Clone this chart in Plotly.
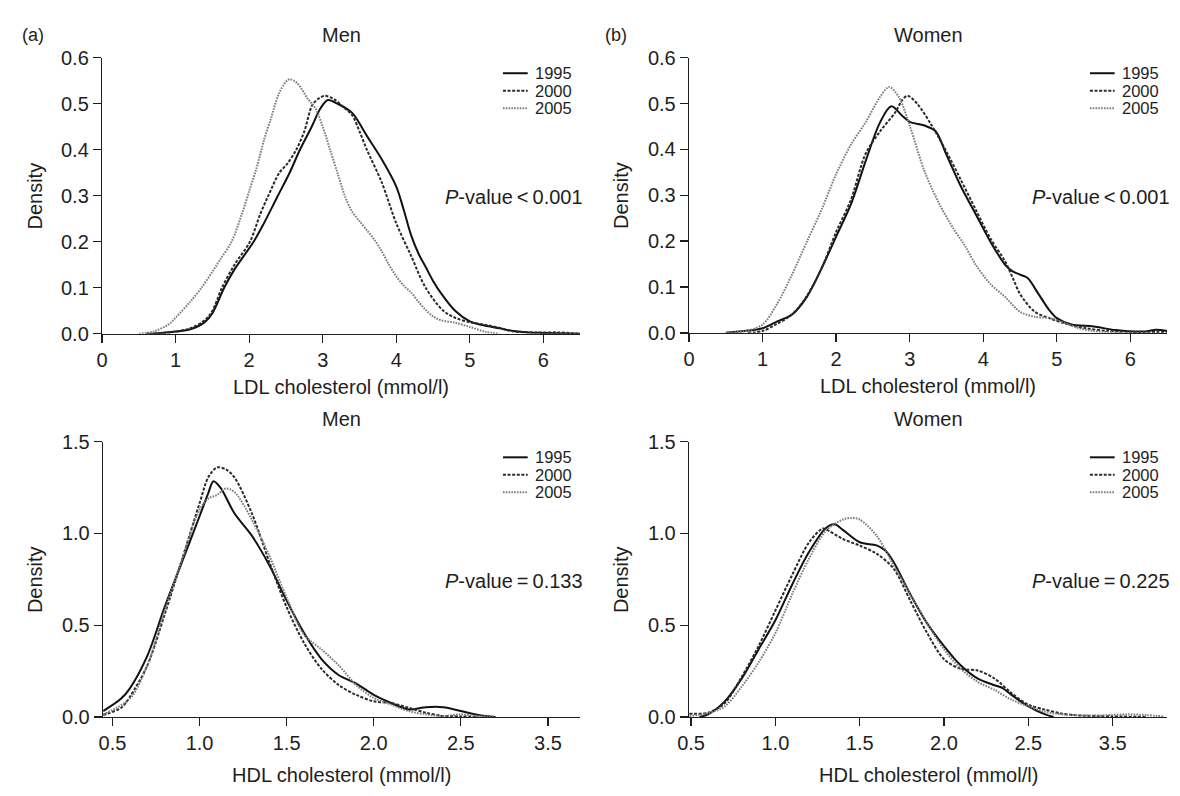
import plotly.graph_objects as go

W, H = 1180, 796
FONT = "Liberation Sans, Arial, Helvetica, sans-serif"
INK = "#1e1e1e"

years = ["1995", "2000", "2005"]

# ---- Panel (a): Men, LDL cholesterol ----
a_1995_x = [0.6, 0.8, 1.0, 1.2, 1.4, 1.5, 1.66, 1.8, 2.06, 2.2, 2.39, 2.55, 2.69, 2.85, 2.97, 3.07, 3.2, 3.4, 3.6, 3.8, 4.0, 4.1, 4.2, 4.3, 4.4, 4.5, 4.6, 4.8, 5.0, 5.2, 5.4, 5.6, 5.8, 6.0, 6.5]
a_1995_y = [0.0, 0.002, 0.005, 0.01, 0.026, 0.045, 0.1, 0.14, 0.2, 0.24, 0.3, 0.35, 0.4, 0.45, 0.49, 0.508, 0.5, 0.48, 0.43, 0.38, 0.32, 0.27, 0.215, 0.175, 0.145, 0.115, 0.09, 0.05, 0.027, 0.018, 0.012, 0.006, 0.003, 0.002, 0.0]
a_2000_x = [0.7, 1.0, 1.2, 1.4, 1.5, 1.63, 1.8, 2.01, 2.15, 2.26, 2.41, 2.52, 2.64, 2.75, 2.87, 3.02, 3.15, 3.3, 3.4, 3.5, 3.6, 3.8, 4.0, 4.2, 4.4, 4.64, 4.8, 5.0, 5.2, 5.4, 5.6, 5.9, 6.2, 6.5]
a_2000_y = [0.0, 0.005, 0.012, 0.03, 0.05, 0.1, 0.15, 0.2, 0.26, 0.3, 0.35, 0.37, 0.4, 0.44, 0.5, 0.517, 0.51, 0.49, 0.475, 0.44, 0.4, 0.33, 0.24, 0.17, 0.1, 0.05, 0.035, 0.025, 0.02, 0.013, 0.005, 0.003, 0.003, 0.0]
a_2005_x = [0.5, 0.7, 0.9, 1.0, 1.2, 1.35, 1.5, 1.6, 1.76, 1.9, 2.0, 2.1, 2.2, 2.3, 2.4, 2.5, 2.55, 2.65, 2.8, 2.9, 3.0, 3.1, 3.2, 3.3, 3.4, 3.5, 3.6, 3.7, 3.8, 3.9, 4.0, 4.1, 4.2, 4.3, 4.4, 4.5, 4.6, 4.8, 5.0, 5.2, 5.4]
a_2005_y = [0.0, 0.005, 0.02, 0.035, 0.07, 0.1, 0.135, 0.16, 0.2, 0.26, 0.31, 0.36, 0.42, 0.47, 0.52, 0.548, 0.553, 0.545, 0.51, 0.49, 0.45, 0.4, 0.35, 0.3, 0.265, 0.245, 0.225, 0.205, 0.18, 0.15, 0.125, 0.105, 0.09, 0.07, 0.052, 0.038, 0.03, 0.024, 0.015, 0.005, 0.0]

# ---- Panel (b): Women, LDL cholesterol ----
b_1995_x = [0.5, 0.8, 1.0, 1.2, 1.4, 1.6, 1.8, 2.0, 2.2, 2.4, 2.6, 2.75, 2.9, 3.0, 3.2, 3.35, 3.5, 3.7, 3.9, 4.1, 4.3, 4.4, 4.5, 4.6, 4.75, 4.9, 5.0, 5.2, 5.5, 5.8, 6.2, 6.35, 6.5]
b_1995_y = [0.0, 0.005, 0.01, 0.025, 0.04, 0.078, 0.14, 0.21, 0.28, 0.374, 0.46, 0.494, 0.473, 0.46, 0.452, 0.44, 0.388, 0.318, 0.258, 0.198, 0.148, 0.134, 0.127, 0.12, 0.085, 0.049, 0.032, 0.018, 0.014, 0.006, 0.003, 0.007, 0.004]
b_2000_x = [0.8, 1.0, 1.2, 1.4, 1.6, 1.8, 2.0, 2.2, 2.4, 2.6, 2.8, 2.9, 2.97, 3.1, 3.3, 3.5, 3.7, 3.9, 4.1, 4.3, 4.4, 4.5, 4.7, 4.9, 5.1, 5.4, 5.7, 6.0, 6.5]
b_2000_y = [0.0, 0.004, 0.02, 0.04, 0.08, 0.14, 0.22, 0.29, 0.39, 0.44, 0.48, 0.508, 0.517, 0.5, 0.452, 0.395, 0.332, 0.268, 0.205, 0.155, 0.12, 0.085, 0.046, 0.032, 0.021, 0.01, 0.004, 0.002, 0.002]
b_2005_x = [0.5, 0.8, 1.0, 1.2, 1.4, 1.6, 1.8, 2.0, 2.2, 2.4, 2.6, 2.72, 2.85, 3.0, 3.2, 3.4, 3.6, 3.75, 3.9, 4.1, 4.3, 4.5, 4.7, 4.9, 5.1, 5.3, 5.5, 5.8, 6.0]
b_2005_y = [0.0, 0.005, 0.018, 0.064, 0.127, 0.198, 0.268, 0.346, 0.41, 0.459, 0.515, 0.536, 0.515, 0.452, 0.353, 0.282, 0.226, 0.19, 0.148, 0.106, 0.078, 0.046, 0.035, 0.032, 0.022, 0.01, 0.004, 0.001, 0.0]

# ---- Panel (c): Men, HDL cholesterol ----
c_1995_x = [0.447, 0.55, 0.6, 0.7, 0.8, 0.9, 1.0, 1.05, 1.08, 1.12, 1.2, 1.3, 1.4, 1.5, 1.6, 1.7, 1.8, 1.9, 2.0, 2.1, 2.2, 2.3, 2.4, 2.5, 2.6, 2.7]
c_1995_y = [0.032, 0.1, 0.156, 0.333, 0.6, 0.846, 1.094, 1.22, 1.285, 1.25, 1.11, 0.988, 0.828, 0.634, 0.457, 0.315, 0.227, 0.182, 0.12, 0.076, 0.041, 0.053, 0.053, 0.032, 0.011, 0.0]
c_2000_x = [0.447, 0.55, 0.6, 0.7, 0.8, 0.9, 1.0, 1.05, 1.1, 1.15, 1.2, 1.3, 1.4, 1.5, 1.6, 1.7, 1.8, 1.9, 2.0, 2.1, 2.2, 2.3, 2.4, 2.5, 2.6]
c_2000_y = [0.011, 0.05, 0.11, 0.28, 0.56, 0.86, 1.165, 1.306, 1.36, 1.35, 1.306, 1.11, 0.846, 0.598, 0.403, 0.262, 0.173, 0.12, 0.085, 0.076, 0.05, 0.023, 0.005, 0.003, 0.0]
c_2005_x = [0.447, 0.6, 0.7, 0.8, 0.9, 1.0, 1.05, 1.1, 1.15, 1.2, 1.3, 1.4, 1.5, 1.6, 1.7, 1.8, 1.9, 2.0, 2.1, 2.2, 2.3, 2.4, 2.5, 2.6, 2.7]
c_2005_y = [0.014, 0.1, 0.28, 0.58, 0.86, 1.13, 1.19, 1.21, 1.245, 1.226, 1.076, 0.88, 0.65, 0.448, 0.368, 0.28, 0.173, 0.103, 0.067, 0.032, 0.014, 0.005, 0.014, 0.005, 0.0]

# ---- Panel (d): Women, HDL cholesterol ----
d_1995_x = [0.55, 0.6, 0.7, 0.8, 0.9, 1.0, 1.1, 1.2, 1.3, 1.35, 1.4, 1.5, 1.6, 1.65, 1.7, 1.8, 1.9, 2.0, 2.1, 2.2, 2.3, 2.35, 2.4, 2.5, 2.6, 2.65]
d_1995_y = [0.0, 0.014, 0.085, 0.209, 0.368, 0.527, 0.722, 0.9, 1.03, 1.05, 1.02, 0.952, 0.935, 0.908, 0.846, 0.669, 0.51, 0.386, 0.28, 0.209, 0.173, 0.156, 0.12, 0.058, 0.014, 0.0]
d_2000_x = [0.49, 0.6, 0.7, 0.8, 0.9, 1.0, 1.1, 1.2, 1.28, 1.3, 1.4, 1.5, 1.6, 1.7, 1.8, 1.9, 2.0, 2.1, 2.2, 2.3, 2.4, 2.5, 2.6, 2.7, 2.8, 3.0, 3.2]
d_2000_y = [0.018, 0.023, 0.076, 0.218, 0.386, 0.58, 0.775, 0.952, 1.027, 1.023, 0.97, 0.934, 0.89, 0.81, 0.634, 0.457, 0.315, 0.262, 0.253, 0.209, 0.13, 0.067, 0.04, 0.018, 0.008, 0.003, 0.0]
d_2005_x = [0.49, 0.6, 0.7, 0.8, 0.9, 1.0, 1.1, 1.2, 1.3, 1.4, 1.45, 1.5, 1.6, 1.7, 1.8, 1.9, 2.0, 2.1, 2.2, 2.3, 2.4, 2.5, 2.6, 2.7, 2.9, 3.1, 3.2, 3.3]
d_2005_y = [0.005, 0.02, 0.058, 0.165, 0.297, 0.457, 0.67, 0.864, 1.015, 1.076, 1.085, 1.076, 0.988, 0.828, 0.669, 0.51, 0.368, 0.262, 0.191, 0.147, 0.094, 0.058, 0.028, 0.014, 0.008, 0.014, 0.01, 0.003]

p_values = ["P-value<0.001", "P-value<0.001", "P-value=0.133", "P-value=0.225"]
panel_titles = ["Men", "Women", "Men", "Women"]
x_titles = ["LDL cholesterol (mmol/l)", "LDL cholesterol (mmol/l)", "HDL cholesterol (mmol/l)", "HDL cholesterol (mmol/l)"]
ldl_ticks = [0, 1, 2, 3, 4, 5, 6]
hdl_tickvals = [0.5, 1.0, 1.5, 2.0, 2.5, 3.0]
hdl_ticktext = ["0.5", "1.0", "1.5", "2.0", "2.5", "3.5"]

panels = [
    [(a_1995_x, a_1995_y), (a_2000_x, a_2000_y), (a_2005_x, a_2005_y)],
    [(b_1995_x, b_1995_y), (b_2000_x, b_2000_y), (b_2005_x, b_2005_y)],
    [(c_1995_x, c_1995_y), (c_2000_x, c_2000_y), (c_2005_x, c_2005_y)],
    [(d_1995_x, d_1995_y), (d_2000_x, d_2000_y), (d_2005_x, d_2005_y)],
]

styles = [
    dict(color="#111111", width=2.0, dash="solid"),
    dict(color="#2a2a2a", width=2.0, dash="3px,1.6px"),
    dict(color="#7c7c7c", width=2.0, dash="1.6px,1.2px"),
]

# pixel geometry of the four plot areas: (left, right, top, bottom)
boxes = [(91, 574, 48, 332), (684, 1167, 48, 331), (92, 574, 443, 726), (684, 1167, 443, 726)]
xranges = [[0, 6.5], [0, 6.5], [0.446, 3.185], [0.488, 3.323]]
yranges = [[0, 0.6], [0, 0.6], [0, 1.5], [0, 1.5]]


def px(x):
    return x / W


def py(y):
    return 1 - y / H


fig = go.Figure()
for i, series in enumerate(panels):
    sfx = "" if i == 0 else str(i + 1)
    for j, (xs, ys) in enumerate(series):
        fig.add_trace(go.Scatter(
            x=xs, y=ys, mode="lines", name=years[j], showlegend=False,
            line=dict(shape="spline", smoothing=0.9, **styles[j]),
            xaxis="x" + sfx, yaxis="y" + sfx, hoverinfo="skip"))

layout = dict(
    width=W, height=H, autosize=False,
    margin=dict(l=0, r=0, t=0, b=0),
    paper_bgcolor="white", plot_bgcolor="white",
    font=dict(family=FONT, size=20, color=INK),
    showlegend=False,
)

annotations = []
shapes = []
for i, (l, r, t, b) in enumerate(boxes):
    sfx = "" if i == 0 else str(i + 1)
    axis_common = dict(showgrid=False, zeroline=False, showline=True, linecolor=INK, linewidth=1.3,
                       ticks="outside", ticklen=8, tickwidth=1.3, tickcolor=INK,
                       tickfont=dict(family=FONT, size=20, color=INK), fixedrange=True)
    xa = dict(axis_common, domain=[px(l), px(r)], range=xranges[i], anchor="y" + sfx)
    if i < 2:
        xa.update(tickvals=ldl_ticks, ticktext=[str(v) for v in ldl_ticks])
    else:
        xa.update(tickvals=hdl_tickvals, ticktext=hdl_ticktext)
    ya = dict(axis_common, domain=[py(b), py(t)], range=yranges[i], anchor="x" + sfx,
              dtick=0.1 if i < 2 else 0.5, tickformat=".1f")
    layout["xaxis" + sfx] = xa
    layout["yaxis" + sfx] = ya

    cx = (l + r) / 2
    annotations.append(dict(text=panel_titles[i], x=px(cx), y=py(t - 23), xref="paper", yref="paper",
                            showarrow=False, xanchor="center", yanchor="middle", font=dict(size=20)))
    annotations.append(dict(text=x_titles[i], x=px(cx), y=py(b + 55 if i < 2 else b + 60), xref="paper", yref="paper",
                            showarrow=False, xanchor="center", yanchor="middle", font=dict(size=20)))
    annotations.append(dict(text="Density", x=px(l - 68), y=py((t + b) / 2), xref="paper", yref="paper",
                            showarrow=False, xanchor="center", yanchor="middle", textangle=-90, font=dict(size=20)))
    ptxt = p_values[i].replace("P", "<i>P</i>", 1).replace("<0", "\u2009&lt;\u20090").replace("=", "\u2009=\u2009")
    annotations.append(dict(text=ptxt, x=px(r + 5), y=py(t + 143), xref="paper", yref="paper",
                            showarrow=False, xanchor="right", yanchor="middle", font=dict(size=20)))
    for j in range(3):
        yy = t + 16 + 18 * j
        shapes.append(dict(type="line", xref="paper", yref="paper",
                           x0=px(r - 78), x1=px(r - 53), y0=py(yy), y1=py(yy),
                           line=dict(color=styles[j]["color"], width=styles[j]["width"], dash=styles[j]["dash"])))
        annotations.append(dict(text=years[j], x=px(r - 47), y=py(yy), xref="paper", yref="paper",
                                showarrow=False, xanchor="left", yanchor="middle", borderpad=0,
                                font=dict(size=16.5)))

annotations.append(dict(text="(a)", x=px(8), y=py(25), xref="paper", yref="paper", showarrow=False,
                        xanchor="left", yanchor="middle", font=dict(size=18)))
annotations.append(dict(text="(b)", x=px(597), y=py(25), xref="paper", yref="paper", showarrow=False,
                        xanchor="left", yanchor="middle", font=dict(size=18)))

layout["annotations"] = annotations
layout["shapes"] = shapes
fig.update_layout(**layout)
fig.write_html("out.html", config={"displayModeBar": False, "staticPlot": True},
               post_script="document.body.style.margin='0';document.body.style.overflow='hidden';")
